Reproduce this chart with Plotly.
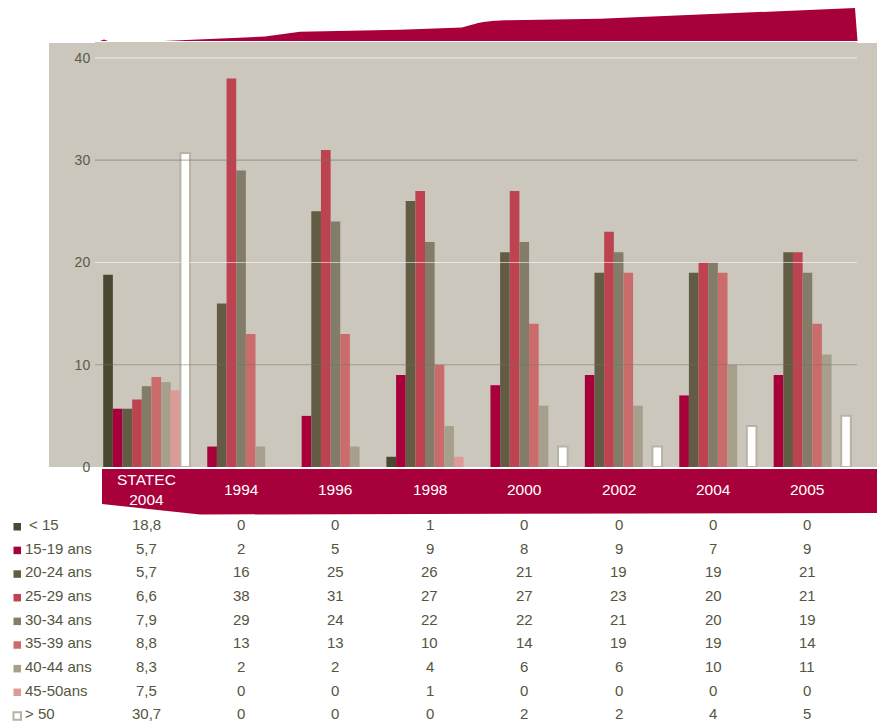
import plotly.graph_objects as go

# ---------------- data ----------------
categories = ["STATEC 2004", "1994", "1996", "1998", "2000", "2002", "2004", "2005"]
band_labels = ["STATEC<br>2004", "1994", "1996", "1998", "2000", "2002", "2004", "2005"]
series_names = ["< 15", "15-19 ans", "20-24 ans", "25-29 ans", "30-34 ans",
                "35-39 ans", "40-44 ans", "45-50ans", "> 50"]

age_lt15 = [18.8, 0, 0, 1, 0, 0, 0, 0]
age_15_19 = [5.7, 2, 5, 9, 8, 9, 7, 9]
age_20_24 = [5.7, 16, 25, 26, 21, 19, 19, 21]
age_25_29 = [6.6, 38, 31, 27, 27, 23, 20, 21]
age_30_34 = [7.9, 29, 24, 22, 22, 21, 20, 19]
age_35_39 = [8.8, 13, 13, 10, 14, 19, 19, 14]
age_40_44 = [8.3, 2, 2, 4, 6, 6, 10, 11]
age_45_50 = [7.5, 0, 0, 1, 0, 0, 0, 0]
age_gt50 = [30.7, 0, 0, 0, 2, 2, 4, 5]

series_values = [age_lt15, age_15_19, age_20_24, age_25_29, age_30_34,
                 age_35_39, age_40_44, age_45_50, age_gt50]

y_ticks = [0, 10, 20, 30, 40]

# ---------------- styles ----------------
colors = ["#4A4830", "#A8003A", "#625C45", "#BC434F", "#827C68",
          "#CB6C6C", "#A59F8C", "#DD9A96", "#FFFFFF"]
outline_open = "#B9B3A6"
crimson = "#A8003A"
grey_bg = "#CBC7BC"
text_col = "#55553F"
FONT = "Liberation Sans, Arial, sans-serif"

W, H = 877, 724
L, R, T, B = 95, 20, 42, 257
pw = W - L - R
ph = H - T - B
base = H - B


def px(x):
    return (x - L) / pw


def py(y):
    return (base - y) / ph


def fmt(v):
    if float(v).is_integer():
        return str(int(v))
    return str(v).replace(".", ",")


fig = go.Figure()
for name, vals, col in zip(series_names, series_values, colors):
    is_open = name == "> 50"
    fig.add_trace(go.Bar(
        x=categories, y=vals, name=name,
        marker=dict(
            color=col,
            line=dict(color=outline_open if is_open else col,
                      width=[2 if v > 0 else 0 for v in vals] if is_open else 0),
        ),
        hoverinfo="x+y+name",
    ))

shapes = []
# grey panel extended to the left (behind y labels)
shapes.append(dict(type="rect", xref="paper", yref="paper",
                   x0=px(49), x1=px(877), y0=0, y1=py(43),
                   fillcolor=grey_bg, line=dict(width=0), layer="below"))
# gridlines (semi-transparent, above bars)
for v in y_ticks[1:]:
    light = (v // 10) % 2 == 0
    shapes.append(dict(type="line", xref="paper", yref="y", x0=0, x1=1, y0=v, y1=v,
                       line=dict(color="rgba(255,255,255,0.55)" if light else "rgba(120,114,94,0.5)",
                                 width=1.2),
                       layer="above"))


def path(points, closed=True):
    s = "M " + " L ".join(f"{px(x):.5f},{py(y):.5f}" for x, y in points)
    return s + (" Z" if closed else "")


# top decorative banner
banner = ("M {a} L {b} L {c} L {d} L {e} C {f} {g} {h} L {i} L {j} L {k} Z").format(
    a=f"{px(163):.5f},{py(41):.5f}", b=f"{px(265):.5f},{py(36.5):.5f}",
    c=f"{px(300):.5f},{py(31.8):.5f}", d=f"{px(400):.5f},{py(29.8):.5f}",
    e=f"{px(462):.5f},{py(27.5):.5f}",
    f=f"{px(472):.5f},{py(25.5):.5f}", g=f"{px(478):.5f},{py(21):.5f}",
    h=f"{px(505):.5f},{py(20.3):.5f}",
    i=f"{px(600):.5f},{py(18.8):.5f}", j=f"{px(855):.5f},{py(8):.5f}",
    k=f"{px(857.5):.5f},{py(41):.5f}")
shapes.append(dict(type="path", xref="paper", yref="paper", path=banner,
                   fillcolor=crimson, line=dict(width=0), layer="above"))
shapes.append(dict(type="path", xref="paper", yref="paper",
                   path=path([(100, 41), (104, 39.6), (108, 41)]),
                   fillcolor=crimson, line=dict(width=0), layer="above"))
# x label band
shapes.append(dict(type="path", xref="paper", yref="paper",
                   path=path([(102, 469), (877, 469), (877, 513), (200, 514.5), (102, 504)]),
                   fillcolor=crimson, line=dict(width=0), layer="above"))

annotations = []
for idx, lab in enumerate(band_labels):
    annotations.append(dict(x=idx, xref="x", y=py(489), yref="paper", text=lab,
                            showarrow=False, xanchor="center", yanchor="middle",
                            font=dict(family=FONT, size=15.5, color="white")))

row0, pitch = 524.5, 23.65
for i, (name, vals, col) in enumerate(zip(series_names, series_values, colors)):
    yc = row0 + pitch * i
    for idx, v in enumerate(vals):
        annotations.append(dict(x=idx, xref="x", y=py(yc), yref="paper", text=fmt(v),
                                showarrow=False, xanchor="center", yanchor="middle",
                                borderpad=0,
                                font=dict(family=FONT, size=15, color=text_col)))
    lx = 29 if name == "< 15" else 25
    annotations.append(dict(x=px(lx), xref="paper", y=py(yc), yref="paper", text=name,
                            showarrow=False, xanchor="left", yanchor="middle", xshift=-1,
                            borderpad=0,
                            font=dict(family=FONT, size=15, color=text_col)))
    is_open = name == "> 50"
    shapes.append(dict(type="rect", xref="paper", yref="paper",
                       x0=px(13.5), x1=px(21), y0=py(yc + 6), y1=py(yc - 1.5),
                       fillcolor=col,
                       line=dict(color=outline_open if is_open else col, width=2 if is_open else 0)))

fig.update_layout(
    width=W, height=H,
    margin=dict(l=L, r=R, t=T, b=B, pad=0),
    paper_bgcolor="white", plot_bgcolor=grey_bg,
    barmode="group", bargap=0.08, bargroupgap=0,
    showlegend=False,
    font=dict(family=FONT, color=text_col),
    xaxis=dict(type="category", range=[-0.547, 7.525], showticklabels=False, showgrid=False,
               zeroline=False, showline=False, ticks=""),
    yaxis=dict(range=[0, 41.56], tickvals=y_ticks, showgrid=False, zeroline=False,
               showline=False, ticks="outside", ticklen=1, tickcolor="rgba(0,0,0,0)",
               tickfont=dict(family=FONT, size=14, color="#5B5B49")),
    shapes=shapes,
    annotations=annotations,
)

fig.write_html("out.html", config={"displayModeBar": False},
               post_script="document.body.style.margin='0';document.body.style.padding='0';")
